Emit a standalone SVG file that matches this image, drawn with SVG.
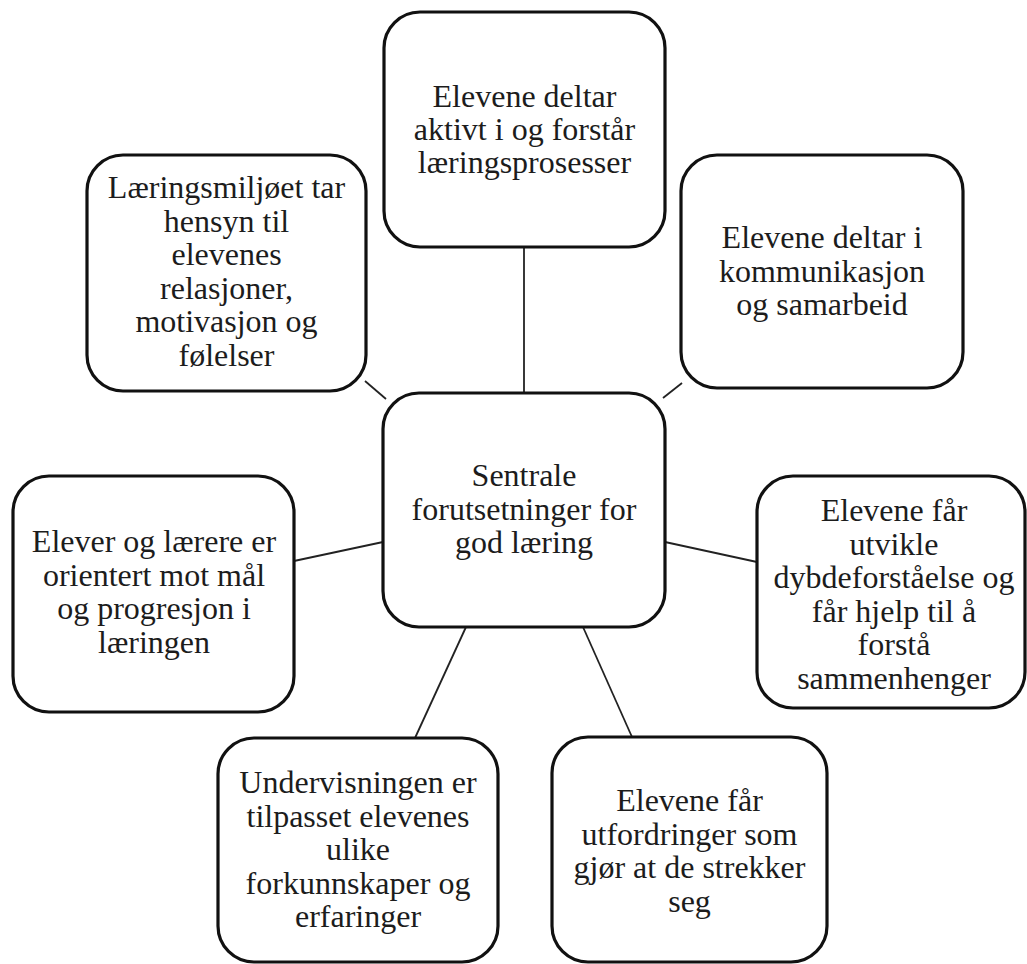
<svg xmlns="http://www.w3.org/2000/svg" width="1027" height="964" viewBox="0 0 1027 964">
<style>
.box{fill:#fff;stroke:#111;stroke-width:3.2}
.lbl{font-family:'Liberation Serif','Times New Roman',Times,serif;font-size:32px;fill:#1c1c1c;text-anchor:middle}
.con line{stroke:#222;stroke-width:1.8}
</style>
<rect width="1027" height="964" fill="#fff"/>
<g id="connectors" class="con">
<line x1="524" y1="247" x2="524" y2="393"/>
<line x1="365" y1="381" x2="386" y2="399"/>
<line x1="663" y1="398" x2="682" y2="383"/>
<line x1="294" y1="561" x2="383" y2="542"/>
<line x1="665" y1="542" x2="757" y2="562"/>
<line x1="466" y1="627" x2="415" y2="738"/>
<line x1="583" y1="627" x2="632" y2="737"/>
</g>
<g id="node-top">
<rect class="box" x="384" y="12" width="281" height="235" rx="36"/>
<text class="lbl"><tspan x="524.5" y="107">Elevene deltar</tspan><tspan x="524.5" y="140">aktivt i og forstår</tspan><tspan x="524.5" y="173">læringsprosesser</tspan></text>
</g>
<g id="node-center">
<rect class="box" x="383" y="393" width="282" height="234" rx="36"/>
<text class="lbl"><tspan x="524" y="486">Sentrale</tspan><tspan x="524" y="519.5">forutsetninger for</tspan><tspan x="524" y="553">god læring</tspan></text>
</g>
<g id="node-topleft">
<rect class="box" x="87" y="155" width="279" height="236" rx="36"/>
<text class="lbl"><tspan x="226.5" y="198">Læringsmiljøet tar</tspan><tspan x="226.5" y="231.5">hensyn til</tspan><tspan x="226.5" y="265">elevenes</tspan><tspan x="226.5" y="298.5">relasjoner,</tspan><tspan x="226.5" y="332">motivasjon og</tspan><tspan x="226.5" y="366">følelser</tspan></text>
</g>
<g id="node-topright">
<rect class="box" x="681" y="155" width="282" height="233" rx="36"/>
<text class="lbl"><tspan x="822" y="248">Elevene deltar i</tspan><tspan x="822" y="281.5">kommunikasjon</tspan><tspan x="822" y="315">og samarbeid</tspan></text>
</g>
<g id="node-left">
<rect class="box" x="13" y="476" width="281" height="236" rx="36"/>
<text class="lbl"><tspan x="154" y="552">Elever og lærere er</tspan><tspan x="154" y="585.5">orientert mot mål</tspan><tspan x="154" y="619">og progresjon i</tspan><tspan x="154" y="652.5">læringen</tspan></text>
</g>
<g id="node-right">
<rect class="box" x="757" y="476" width="268" height="232" rx="36"/>
<text class="lbl"><tspan x="894" y="521">Elevene får</tspan><tspan x="894" y="554.5">utvikle</tspan><tspan x="894" y="588">dybdeforståelse og</tspan><tspan x="894" y="621.5">får hjelp til å</tspan><tspan x="894" y="655">forstå</tspan><tspan x="894" y="688.5">sammenhenger</tspan></text>
</g>
<g id="node-bottomleft">
<rect class="box" x="218" y="738" width="280" height="224" rx="36"/>
<text class="lbl"><tspan x="358" y="793">Undervisningen er</tspan><tspan x="358" y="826.5">tilpasset elevenes</tspan><tspan x="358" y="860">ulike</tspan><tspan x="358" y="893.5">forkunnskaper og</tspan><tspan x="358" y="927">erfaringer</tspan></text>
</g>
<g id="node-bottomright">
<rect class="box" x="552" y="737" width="275" height="225" rx="36"/>
<text class="lbl"><tspan x="689.5" y="811">Elevene får</tspan><tspan x="689.5" y="844.5">utfordringer som</tspan><tspan x="689.5" y="878">gjør at de strekker</tspan><tspan x="689.5" y="911.5">seg</tspan></text>
</g>
</svg>
